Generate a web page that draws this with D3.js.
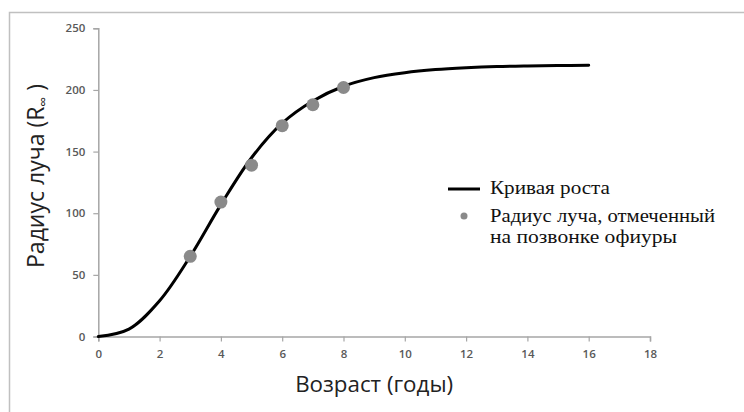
<!DOCTYPE html>
<html>
<head>
<meta charset="utf-8">
<script src="https://cdn.jsdelivr.net/npm/d3@7"></script>
<style>
  body { margin: 0; background: #fff; }
  svg { display: block; }
</style>
</head>
<body>
<svg id="chart" width="744" height="412"></svg>
<script>
// growth curve, read at whole years
const curveAges = [0, 1, 2, 3, 4, 5, 6, 7, 8, 9, 10, 11, 12, 13, 14, 15, 16];
const curveRadius = [0, 6, 29, 65, 107, 145, 173, 191, 203, 210, 214, 216.5, 218, 219, 219.5, 219.8, 220];

// radius marked on the vertebra
const pointAges = [3, 4, 5, 6, 7, 8];
const pointRadius = [65, 109, 139, 171, 188, 202];

const xTicks = [0, 2, 4, 6, 8, 10, 12, 14, 16, 18];
const yTicks = [0, 50, 100, 150, 200, 250];

const legendItems = ["Кривая роста", "Радиус луча, отмеченный", "на позвонке офиуры"];

const svg = d3.select("#chart");

// outer frame (runs off the right and bottom edges)
svg.append("rect")
  .attr("x", 9.5).attr("y", 12.5)
  .attr("width", 760).attr("height", 420)
  .attr("fill", "none")
  .attr("stroke", "#c0c0c0")
  .attr("stroke-width", 1.5);

const x = d3.scaleLinear().domain([0, 18]).range([98.3, 650]);
const y = d3.scaleLinear().domain([0, 250]).range([336.5, 28.3]);

const axisColor = "#a6a6a6";
const labelColor = "#595959";

const xAxis = svg.append("g")
  .attr("transform", `translate(0,${y(0)})`)
  .call(d3.axisBottom(x).tickValues(xTicks).tickSize(5).tickPadding(8).tickSizeOuter(5));
const yAxis = svg.append("g")
  .attr("transform", `translate(${x(0)},0)`)
  .call(d3.axisLeft(y).tickValues(yTicks).tickSize(5).tickPadding(8).tickSizeOuter(5));

[xAxis, yAxis].forEach((g) => {
  g.select(".domain").attr("stroke", axisColor).attr("stroke-width", 1.5);
  g.selectAll(".tick line").attr("stroke", axisColor).attr("stroke-width", 1.2);
  g.selectAll(".tick text")
    .attr("fill", labelColor)
    .style("font-family", "'Open Sans', sans-serif")
    .style("font-size", "11.5px")
    .style("font-weight", "600");
});

// growth curve
const line = d3.line()
  .x((d, i) => x(curveAges[i]))
  .y((d) => y(d))
  .curve(d3.curveCatmullRom.alpha(0.5));

svg.append("path")
  .datum(curveRadius)
  .attr("d", line)
  .attr("fill", "none")
  .attr("stroke", "#000")
  .attr("stroke-width", 3)
  .attr("stroke-linecap", "round");

svg.append("g")
  .selectAll("circle")
  .data(pointAges)
  .join("circle")
  .attr("cx", (d) => x(d))
  .attr("cy", (d, i) => y(pointRadius[i]))
  .attr("r", 6.5)
  .attr("fill", "#8a8a8a");

// axis titles
svg.append("text")
  .attr("x", (x(0) + x(18)) / 2)
  .attr("y", 392)
  .attr("text-anchor", "middle")
  .attr("fill", "#222")
  .attr("textLength", 158)
  .attr("lengthAdjust", "spacingAndGlyphs")
  .style("font-family", "'Open Sans', sans-serif")
  .style("font-size", "22px")
  .text("Возраст (годы)");

const yTitle = svg.append("text")
  .attr("transform", "translate(44,176) rotate(-90)")
  .attr("text-anchor", "middle")
  .attr("fill", "#222")
  .style("font-family", "'Open Sans', sans-serif")
  .style("font-size", "23px");
yTitle.append("tspan").text("Радиус луча (R");
yTitle.append("tspan").attr("dy", 4).style("font-size", "14px").text("∞");
yTitle.append("tspan").attr("dy", -4).text(" )");

// legend
const legend = svg.append("g")
  .style("font-family", "'Liberation Serif', 'Times New Roman', serif")
  .style("font-size", "19px")
  .attr("fill", "#111");

legend.append("line")
  .attr("x1", 448).attr("x2", 480)
  .attr("y1", 189).attr("y2", 189)
  .attr("stroke", "#000").attr("stroke-width", 3);

legend.append("circle")
  .attr("cx", 464).attr("cy", 216).attr("r", 3.5)
  .attr("fill", "#8a8a8a");

const legendY = [194, 222, 243];
const legendW = [120, 225, 187];
legend.selectAll("text")
  .data(legendItems)
  .join("text")
  .attr("x", 490)
  .attr("y", (d, i) => legendY[i])
  .attr("textLength", (d, i) => legendW[i])
  .attr("lengthAdjust", "spacingAndGlyphs")
  .text((d) => d);
</script>
</body>
</html>
